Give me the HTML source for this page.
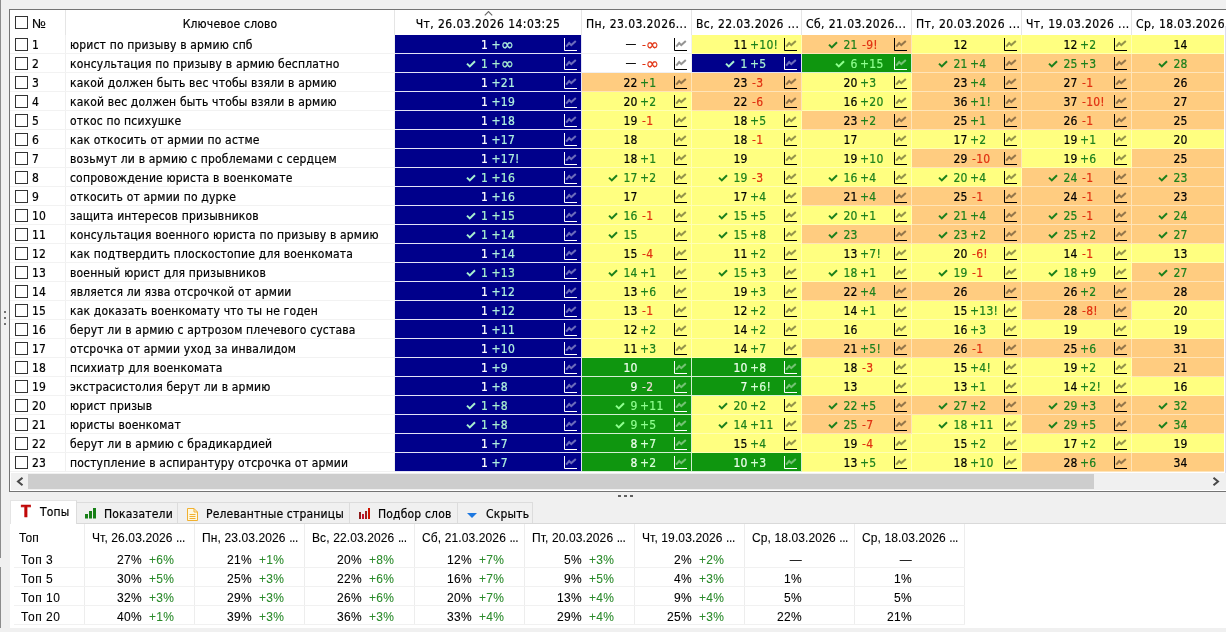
<!DOCTYPE html><html lang="ru"><head><meta charset="utf-8"><title>Позиции</title><style>

html,body{margin:0;padding:0}
body{width:1226px;height:632px;overflow:hidden;background:#f0f0f0;position:relative;font-family:'DejaVu Sans Condensed','Liberation Sans',sans-serif;font-size:12px;letter-spacing:.18px;color:#000;line-height:18px;-webkit-text-stroke:.2px}
div,span{box-sizing:border-box}
.a{position:absolute}
.grid{position:absolute;left:9px;top:9px;width:1230px;height:483px;border:1px solid #747474;background:#fff;overflow:hidden}
.hd{position:absolute;top:0;height:25px;line-height:25px;white-space:nowrap;overflow:hidden;padding-top:2px}
.vs{position:absolute;top:0;width:1px;background:#e5e5e5;height:25px}
.r{position:absolute;left:0;width:1220px;height:19px;border-bottom:1px solid #f2f2f2}
.cb{position:absolute;left:5px;top:3px;width:13px;height:13px;border:1px solid #333;background:#fff}
.n{position:absolute;left:22px;top:1px;height:18px;white-space:nowrap}
.k{position:absolute;left:60px;top:1px;height:18px;white-space:nowrap}
.c{position:absolute;top:0;height:19px;white-space:nowrap;border-right:1px solid #f0f0f0;border-bottom:1px solid #f0f0f0}
.c .l{position:absolute;right:calc(50% - 1px);top:1px;text-align:right;white-space:nowrap}
.c .d{position:absolute;left:50%;top:1px;white-space:pre}
.c svg.i{position:absolute;right:4px;top:3px;width:13px;height:13px}
.c svg.ck{position:relative;top:0;width:10px;height:8px;margin-right:5px;vertical-align:0}
.c.z .l{right:calc(50% + 0px)}.c.z .d{left:calc(50% + 0px)}
.W{background:#fff}.Y{background:#ffff80;border-color:#ffffb4}.O{background:#ffcc80;border-color:#ffe4b8}.G{background:#0f960f;color:#f0fff0;border-color:#d4f0d4}.B{background:#00008b;color:#fff;border-color:#e2e2f6}
.p{color:#1c801c}.m{color:#e03010;margin-left:2px}
.Y .g,.O .g,.W .g{color:#1c801c}
.B .p{color:#b0f0e0}.B .g,.B .g+.d{color:#a8f0d0}
.G .p{color:#d8ffd8}.G .m{color:#f0d8d8}.G .g,.G .g+.d{color:#90ff90}
.inf{font-size:16px;line-height:0;position:relative;top:1px;display:inline-block;transform:scaleX(1.12);transform-origin:0 50%}.ds{position:relative;top:-1px;margin-right:1px}
.vl{position:absolute;top:0;width:1px;height:18px;background:#f0f0f0}
.ax{stroke:#000}.B .ax,.G .ax{stroke:#fff}
.zz{stroke:#000;stroke-opacity:.42}.B .zz,.G .zz{stroke:#fff;stroke-opacity:.42}
.tab{position:absolute;top:502px;height:21px;border:1px solid #dcdcdc;border-bottom:0;border-left:0;background:#f0f0f0;white-space:nowrap;line-height:21px}
.tab.on{top:500px;height:24px;background:#fff;border-left:1px solid #e4e4e4;border-top-color:#e4e4e4}
.bt{position:absolute;left:10px;top:524px;width:1220px;height:104px;background:#fff;overflow:hidden;font-family:'Liberation Sans',sans-serif;letter-spacing:.1px;-webkit-text-stroke:.08px}
.bh{position:absolute;top:2px;height:25px;line-height:25px;white-space:nowrap;letter-spacing:.12px}.el{letter-spacing:-.4px}
.bv{position:absolute;top:0;width:1px;background:#ededed;height:101px}
.br{position:absolute;left:4px;width:951px;height:19px;border-bottom:1px solid #f1f1f1}
.bc{position:absolute;top:2px;height:18px;white-space:pre;letter-spacing:.3px}.bl{letter-spacing:.55px}
.bg{color:#2a8a2a}

</style></head><body>
<div class="a" style="left:0;top:0;width:1px;height:558px;background:#8c8c8c"></div>
<div class="a" style="left:0;top:567px;width:1px;height:61px;background:#8c8c8c"></div>
<div class="a" style="left:4px;top:311px;width:2px;height:2px;background:#707070"></div>
<div class="a" style="left:4px;top:317px;width:2px;height:2px;background:#707070"></div>
<div class="a" style="left:4px;top:323px;width:2px;height:2px;background:#707070"></div>
<div class="grid">
<div class="cb" style="top:6px"></div><div class="hd" style="left:22px;font-family:'Liberation Sans',sans-serif;font-size:13px;letter-spacing:0;padding-top:1px">№</div>
<div class="hd" style="left:56px;width:328px;text-align:center">Ключевое слово</div>
<div class="vs" style="left:55px"></div>
<div class="vs" style="left:384px"></div>
<div class="vs" style="left:571px"></div>
<div class="vs" style="left:681px"></div>
<div class="vs" style="left:791px"></div>
<div class="vs" style="left:901px"></div>
<div class="vs" style="left:1011px"></div>
<div class="vs" style="left:1121px"></div>
<div class="hd" style="left:385px;width:186px;text-align:center;letter-spacing:.45px">Чт, 26.03.2026 14:03:25</div>
<div class="hd" style="left:576px;width:105px;letter-spacing:.42px">Пн, 23.03.2026...</div>
<div class="hd" style="left:686px;width:105px;letter-spacing:.42px">Вс, 22.03.2026 ...</div>
<div class="hd" style="left:796px;width:105px;letter-spacing:.42px">Сб, 21.03.2026...</div>
<div class="hd" style="left:906px;width:105px;letter-spacing:.42px">Пт, 20.03.2026 ...</div>
<div class="hd" style="left:1016px;width:105px;letter-spacing:.42px">Чт, 19.03.2026 ...</div>
<div class="hd" style="left:1126px;width:105px;letter-spacing:.42px">Ср, 18.03.2026 ...</div>
<svg class="a" style="left:474px;top:1px" width="9" height="5" viewBox="0 0 9 5"><path d="M.8 4.300L4.500 .6L8.200 4.300" fill="none" stroke="#686868" stroke-width="1.200"/></svg>
<div class="r" style="top:25px">
<div class="cb"></div><span class="n">1</span><span class="k">юрист по призыву в армию спб</span>
<div class="c B z" style="left:385px;width:187px"><span class="l">1</span><span class="d p"> +<span class="inf">∞</span></span><svg class="i" viewBox="0 0 13 13"><path class="ax" d="M.5 0V12.5H13" fill="none"/><path class="zz" d="M2.2 8.6L5.2 5L7.3 7.1L11.8 3" fill="none" stroke-width="2"/></svg></div>
<div class="c W" style="left:572px;width:110px"><span class="l"><span class="ds">—</span></span><span class="d m"> -<span class="inf">∞</span></span><svg class="i" viewBox="0 0 13 13"><path class="ax" d="M.5 0V12.5H13" fill="none"/><path class="zz" d="M2.2 8.6L5.2 5L7.3 7.1L11.8 3" fill="none" stroke-width="2"/></svg></div>
<div class="c Y" style="left:682px;width:110px"><span class="l">11</span><span class="d p"> +10!</span><svg class="i" viewBox="0 0 13 13"><path class="ax" d="M.5 0V12.5H13" fill="none"/><path class="zz" d="M2.2 8.6L5.2 5L7.3 7.1L11.8 3" fill="none" stroke-width="2"/></svg></div>
<div class="c O" style="left:792px;width:110px"><span class="l g"><svg class="ck" viewBox="0 0 10 8"><path d="M1 3.6L3.8 6.4L9 1.2" fill="none" stroke="currentColor" stroke-width="2"/></svg>21</span><span class="d m"> -9!</span><svg class="i" viewBox="0 0 13 13"><path class="ax" d="M.5 0V12.5H13" fill="none"/><path class="zz" d="M2.2 8.6L5.2 5L7.3 7.1L11.8 3" fill="none" stroke-width="2"/></svg></div>
<div class="c Y" style="left:902px;width:110px"><span class="l">12</span><svg class="i" viewBox="0 0 13 13"><path class="ax" d="M.5 0V12.5H13" fill="none"/><path class="zz" d="M2.2 8.6L5.2 5L7.3 7.1L11.8 3" fill="none" stroke-width="2"/></svg></div>
<div class="c Y" style="left:1012px;width:110px"><span class="l">12</span><span class="d p"> +2</span><svg class="i" viewBox="0 0 13 13"><path class="ax" d="M.5 0V12.5H13" fill="none"/><path class="zz" d="M2.2 8.6L5.2 5L7.3 7.1L11.8 3" fill="none" stroke-width="2"/></svg></div>
<div class="c Y" style="left:1122px;width:110px"><span class="l">14</span></div>
<div class="vl" style="left:55px"></div>
<div class="vl" style="left:384px"></div>
</div>
<div class="r" style="top:44px">
<div class="cb"></div><span class="n">2</span><span class="k">консультация по призыву в армию бесплатно</span>
<div class="c B z" style="left:385px;width:187px"><span class="l g"><svg class="ck" viewBox="0 0 10 8"><path d="M1 3.6L3.8 6.4L9 1.2" fill="none" stroke="currentColor" stroke-width="2"/></svg>1</span><span class="d p"> +<span class="inf">∞</span></span><svg class="i" viewBox="0 0 13 13"><path class="ax" d="M.5 0V12.5H13" fill="none"/><path class="zz" d="M2.2 8.6L5.2 5L7.3 7.1L11.8 3" fill="none" stroke-width="2"/></svg></div>
<div class="c W" style="left:572px;width:110px"><span class="l"><span class="ds">—</span></span><span class="d m"> -<span class="inf">∞</span></span><svg class="i" viewBox="0 0 13 13"><path class="ax" d="M.5 0V12.5H13" fill="none"/><path class="zz" d="M2.2 8.6L5.2 5L7.3 7.1L11.8 3" fill="none" stroke-width="2"/></svg></div>
<div class="c B" style="left:682px;width:110px"><span class="l g"><svg class="ck" viewBox="0 0 10 8"><path d="M1 3.6L3.8 6.4L9 1.2" fill="none" stroke="currentColor" stroke-width="2"/></svg>1</span><span class="d p"> +5</span><svg class="i" viewBox="0 0 13 13"><path class="ax" d="M.5 0V12.5H13" fill="none"/><path class="zz" d="M2.2 8.6L5.2 5L7.3 7.1L11.8 3" fill="none" stroke-width="2"/></svg></div>
<div class="c G" style="left:792px;width:110px"><span class="l g"><svg class="ck" viewBox="0 0 10 8"><path d="M1 3.6L3.8 6.4L9 1.2" fill="none" stroke="currentColor" stroke-width="2"/></svg>6</span><span class="d p"> +15</span><svg class="i" viewBox="0 0 13 13"><path class="ax" d="M.5 0V12.5H13" fill="none"/><path class="zz" d="M2.2 8.6L5.2 5L7.3 7.1L11.8 3" fill="none" stroke-width="2"/></svg></div>
<div class="c O" style="left:902px;width:110px"><span class="l g"><svg class="ck" viewBox="0 0 10 8"><path d="M1 3.6L3.8 6.4L9 1.2" fill="none" stroke="currentColor" stroke-width="2"/></svg>21</span><span class="d p"> +4</span><svg class="i" viewBox="0 0 13 13"><path class="ax" d="M.5 0V12.5H13" fill="none"/><path class="zz" d="M2.2 8.6L5.2 5L7.3 7.1L11.8 3" fill="none" stroke-width="2"/></svg></div>
<div class="c O" style="left:1012px;width:110px"><span class="l g"><svg class="ck" viewBox="0 0 10 8"><path d="M1 3.6L3.8 6.4L9 1.2" fill="none" stroke="currentColor" stroke-width="2"/></svg>25</span><span class="d p"> +3</span><svg class="i" viewBox="0 0 13 13"><path class="ax" d="M.5 0V12.5H13" fill="none"/><path class="zz" d="M2.2 8.6L5.2 5L7.3 7.1L11.8 3" fill="none" stroke-width="2"/></svg></div>
<div class="c O" style="left:1122px;width:110px"><span class="l g"><svg class="ck" viewBox="0 0 10 8"><path d="M1 3.6L3.8 6.4L9 1.2" fill="none" stroke="currentColor" stroke-width="2"/></svg>28</span></div>
<div class="vl" style="left:55px"></div>
<div class="vl" style="left:384px"></div>
</div>
<div class="r" style="top:63px">
<div class="cb"></div><span class="n">3</span><span class="k">какой должен быть вес чтобы взяли в армию</span>
<div class="c B z" style="left:385px;width:187px"><span class="l">1</span><span class="d p"> +21</span><svg class="i" viewBox="0 0 13 13"><path class="ax" d="M.5 0V12.5H13" fill="none"/><path class="zz" d="M2.2 8.6L5.2 5L7.3 7.1L11.8 3" fill="none" stroke-width="2"/></svg></div>
<div class="c O" style="left:572px;width:110px"><span class="l">22</span><span class="d p"> +1</span><svg class="i" viewBox="0 0 13 13"><path class="ax" d="M.5 0V12.5H13" fill="none"/><path class="zz" d="M2.2 8.6L5.2 5L7.3 7.1L11.8 3" fill="none" stroke-width="2"/></svg></div>
<div class="c O" style="left:682px;width:110px"><span class="l">23</span><span class="d m"> -3</span><svg class="i" viewBox="0 0 13 13"><path class="ax" d="M.5 0V12.5H13" fill="none"/><path class="zz" d="M2.2 8.6L5.2 5L7.3 7.1L11.8 3" fill="none" stroke-width="2"/></svg></div>
<div class="c Y" style="left:792px;width:110px"><span class="l">20</span><span class="d p"> +3</span><svg class="i" viewBox="0 0 13 13"><path class="ax" d="M.5 0V12.5H13" fill="none"/><path class="zz" d="M2.2 8.6L5.2 5L7.3 7.1L11.8 3" fill="none" stroke-width="2"/></svg></div>
<div class="c O" style="left:902px;width:110px"><span class="l">23</span><span class="d p"> +4</span><svg class="i" viewBox="0 0 13 13"><path class="ax" d="M.5 0V12.5H13" fill="none"/><path class="zz" d="M2.2 8.6L5.2 5L7.3 7.1L11.8 3" fill="none" stroke-width="2"/></svg></div>
<div class="c O" style="left:1012px;width:110px"><span class="l">27</span><span class="d m"> -1</span><svg class="i" viewBox="0 0 13 13"><path class="ax" d="M.5 0V12.5H13" fill="none"/><path class="zz" d="M2.2 8.6L5.2 5L7.3 7.1L11.8 3" fill="none" stroke-width="2"/></svg></div>
<div class="c O" style="left:1122px;width:110px"><span class="l">26</span></div>
<div class="vl" style="left:55px"></div>
<div class="vl" style="left:384px"></div>
</div>
<div class="r" style="top:82px">
<div class="cb"></div><span class="n">4</span><span class="k">какой вес должен быть чтобы взяли в армию</span>
<div class="c B z" style="left:385px;width:187px"><span class="l">1</span><span class="d p"> +19</span><svg class="i" viewBox="0 0 13 13"><path class="ax" d="M.5 0V12.5H13" fill="none"/><path class="zz" d="M2.2 8.6L5.2 5L7.3 7.1L11.8 3" fill="none" stroke-width="2"/></svg></div>
<div class="c Y" style="left:572px;width:110px"><span class="l">20</span><span class="d p"> +2</span><svg class="i" viewBox="0 0 13 13"><path class="ax" d="M.5 0V12.5H13" fill="none"/><path class="zz" d="M2.2 8.6L5.2 5L7.3 7.1L11.8 3" fill="none" stroke-width="2"/></svg></div>
<div class="c O" style="left:682px;width:110px"><span class="l">22</span><span class="d m"> -6</span><svg class="i" viewBox="0 0 13 13"><path class="ax" d="M.5 0V12.5H13" fill="none"/><path class="zz" d="M2.2 8.6L5.2 5L7.3 7.1L11.8 3" fill="none" stroke-width="2"/></svg></div>
<div class="c Y" style="left:792px;width:110px"><span class="l">16</span><span class="d p"> +20</span><svg class="i" viewBox="0 0 13 13"><path class="ax" d="M.5 0V12.5H13" fill="none"/><path class="zz" d="M2.2 8.6L5.2 5L7.3 7.1L11.8 3" fill="none" stroke-width="2"/></svg></div>
<div class="c O" style="left:902px;width:110px"><span class="l">36</span><span class="d p"> +1!</span><svg class="i" viewBox="0 0 13 13"><path class="ax" d="M.5 0V12.5H13" fill="none"/><path class="zz" d="M2.2 8.6L5.2 5L7.3 7.1L11.8 3" fill="none" stroke-width="2"/></svg></div>
<div class="c O" style="left:1012px;width:110px"><span class="l">37</span><span class="d m"> -10!</span><svg class="i" viewBox="0 0 13 13"><path class="ax" d="M.5 0V12.5H13" fill="none"/><path class="zz" d="M2.2 8.6L5.2 5L7.3 7.1L11.8 3" fill="none" stroke-width="2"/></svg></div>
<div class="c O" style="left:1122px;width:110px"><span class="l">27</span></div>
<div class="vl" style="left:55px"></div>
<div class="vl" style="left:384px"></div>
</div>
<div class="r" style="top:101px">
<div class="cb"></div><span class="n">5</span><span class="k">откос по психушке</span>
<div class="c B z" style="left:385px;width:187px"><span class="l">1</span><span class="d p"> +18</span><svg class="i" viewBox="0 0 13 13"><path class="ax" d="M.5 0V12.5H13" fill="none"/><path class="zz" d="M2.2 8.6L5.2 5L7.3 7.1L11.8 3" fill="none" stroke-width="2"/></svg></div>
<div class="c Y" style="left:572px;width:110px"><span class="l">19</span><span class="d m"> -1</span><svg class="i" viewBox="0 0 13 13"><path class="ax" d="M.5 0V12.5H13" fill="none"/><path class="zz" d="M2.2 8.6L5.2 5L7.3 7.1L11.8 3" fill="none" stroke-width="2"/></svg></div>
<div class="c Y" style="left:682px;width:110px"><span class="l">18</span><span class="d p"> +5</span><svg class="i" viewBox="0 0 13 13"><path class="ax" d="M.5 0V12.5H13" fill="none"/><path class="zz" d="M2.2 8.6L5.2 5L7.3 7.1L11.8 3" fill="none" stroke-width="2"/></svg></div>
<div class="c O" style="left:792px;width:110px"><span class="l">23</span><span class="d p"> +2</span><svg class="i" viewBox="0 0 13 13"><path class="ax" d="M.5 0V12.5H13" fill="none"/><path class="zz" d="M2.2 8.6L5.2 5L7.3 7.1L11.8 3" fill="none" stroke-width="2"/></svg></div>
<div class="c O" style="left:902px;width:110px"><span class="l">25</span><span class="d p"> +1</span><svg class="i" viewBox="0 0 13 13"><path class="ax" d="M.5 0V12.5H13" fill="none"/><path class="zz" d="M2.2 8.6L5.2 5L7.3 7.1L11.8 3" fill="none" stroke-width="2"/></svg></div>
<div class="c O" style="left:1012px;width:110px"><span class="l">26</span><span class="d m"> -1</span><svg class="i" viewBox="0 0 13 13"><path class="ax" d="M.5 0V12.5H13" fill="none"/><path class="zz" d="M2.2 8.6L5.2 5L7.3 7.1L11.8 3" fill="none" stroke-width="2"/></svg></div>
<div class="c O" style="left:1122px;width:110px"><span class="l">25</span></div>
<div class="vl" style="left:55px"></div>
<div class="vl" style="left:384px"></div>
</div>
<div class="r" style="top:120px">
<div class="cb"></div><span class="n">6</span><span class="k">как откосить от армии по астме</span>
<div class="c B z" style="left:385px;width:187px"><span class="l">1</span><span class="d p"> +17</span><svg class="i" viewBox="0 0 13 13"><path class="ax" d="M.5 0V12.5H13" fill="none"/><path class="zz" d="M2.2 8.6L5.2 5L7.3 7.1L11.8 3" fill="none" stroke-width="2"/></svg></div>
<div class="c Y" style="left:572px;width:110px"><span class="l">18</span><svg class="i" viewBox="0 0 13 13"><path class="ax" d="M.5 0V12.5H13" fill="none"/><path class="zz" d="M2.2 8.6L5.2 5L7.3 7.1L11.8 3" fill="none" stroke-width="2"/></svg></div>
<div class="c Y" style="left:682px;width:110px"><span class="l">18</span><span class="d m"> -1</span><svg class="i" viewBox="0 0 13 13"><path class="ax" d="M.5 0V12.5H13" fill="none"/><path class="zz" d="M2.2 8.6L5.2 5L7.3 7.1L11.8 3" fill="none" stroke-width="2"/></svg></div>
<div class="c Y" style="left:792px;width:110px"><span class="l">17</span><svg class="i" viewBox="0 0 13 13"><path class="ax" d="M.5 0V12.5H13" fill="none"/><path class="zz" d="M2.2 8.6L5.2 5L7.3 7.1L11.8 3" fill="none" stroke-width="2"/></svg></div>
<div class="c Y" style="left:902px;width:110px"><span class="l">17</span><span class="d p"> +2</span><svg class="i" viewBox="0 0 13 13"><path class="ax" d="M.5 0V12.5H13" fill="none"/><path class="zz" d="M2.2 8.6L5.2 5L7.3 7.1L11.8 3" fill="none" stroke-width="2"/></svg></div>
<div class="c Y" style="left:1012px;width:110px"><span class="l">19</span><span class="d p"> +1</span><svg class="i" viewBox="0 0 13 13"><path class="ax" d="M.5 0V12.5H13" fill="none"/><path class="zz" d="M2.2 8.6L5.2 5L7.3 7.1L11.8 3" fill="none" stroke-width="2"/></svg></div>
<div class="c Y" style="left:1122px;width:110px"><span class="l">20</span></div>
<div class="vl" style="left:55px"></div>
<div class="vl" style="left:384px"></div>
</div>
<div class="r" style="top:139px">
<div class="cb"></div><span class="n">7</span><span class="k">возьмут ли в армию с проблемами с сердцем</span>
<div class="c B z" style="left:385px;width:187px"><span class="l">1</span><span class="d p"> +17!</span><svg class="i" viewBox="0 0 13 13"><path class="ax" d="M.5 0V12.5H13" fill="none"/><path class="zz" d="M2.2 8.6L5.2 5L7.3 7.1L11.8 3" fill="none" stroke-width="2"/></svg></div>
<div class="c Y" style="left:572px;width:110px"><span class="l">18</span><span class="d p"> +1</span><svg class="i" viewBox="0 0 13 13"><path class="ax" d="M.5 0V12.5H13" fill="none"/><path class="zz" d="M2.2 8.6L5.2 5L7.3 7.1L11.8 3" fill="none" stroke-width="2"/></svg></div>
<div class="c Y" style="left:682px;width:110px"><span class="l">19</span><svg class="i" viewBox="0 0 13 13"><path class="ax" d="M.5 0V12.5H13" fill="none"/><path class="zz" d="M2.2 8.6L5.2 5L7.3 7.1L11.8 3" fill="none" stroke-width="2"/></svg></div>
<div class="c Y" style="left:792px;width:110px"><span class="l">19</span><span class="d p"> +10</span><svg class="i" viewBox="0 0 13 13"><path class="ax" d="M.5 0V12.5H13" fill="none"/><path class="zz" d="M2.2 8.6L5.2 5L7.3 7.1L11.8 3" fill="none" stroke-width="2"/></svg></div>
<div class="c O" style="left:902px;width:110px"><span class="l">29</span><span class="d m"> -10</span><svg class="i" viewBox="0 0 13 13"><path class="ax" d="M.5 0V12.5H13" fill="none"/><path class="zz" d="M2.2 8.6L5.2 5L7.3 7.1L11.8 3" fill="none" stroke-width="2"/></svg></div>
<div class="c Y" style="left:1012px;width:110px"><span class="l">19</span><span class="d p"> +6</span><svg class="i" viewBox="0 0 13 13"><path class="ax" d="M.5 0V12.5H13" fill="none"/><path class="zz" d="M2.2 8.6L5.2 5L7.3 7.1L11.8 3" fill="none" stroke-width="2"/></svg></div>
<div class="c O" style="left:1122px;width:110px"><span class="l">25</span></div>
<div class="vl" style="left:55px"></div>
<div class="vl" style="left:384px"></div>
</div>
<div class="r" style="top:158px">
<div class="cb"></div><span class="n">8</span><span class="k">сопровождение юриста в военкомате</span>
<div class="c B z" style="left:385px;width:187px"><span class="l g"><svg class="ck" viewBox="0 0 10 8"><path d="M1 3.6L3.8 6.4L9 1.2" fill="none" stroke="currentColor" stroke-width="2"/></svg>1</span><span class="d p"> +16</span><svg class="i" viewBox="0 0 13 13"><path class="ax" d="M.5 0V12.5H13" fill="none"/><path class="zz" d="M2.2 8.6L5.2 5L7.3 7.1L11.8 3" fill="none" stroke-width="2"/></svg></div>
<div class="c Y" style="left:572px;width:110px"><span class="l g"><svg class="ck" viewBox="0 0 10 8"><path d="M1 3.6L3.8 6.4L9 1.2" fill="none" stroke="currentColor" stroke-width="2"/></svg>17</span><span class="d p"> +2</span><svg class="i" viewBox="0 0 13 13"><path class="ax" d="M.5 0V12.5H13" fill="none"/><path class="zz" d="M2.2 8.6L5.2 5L7.3 7.1L11.8 3" fill="none" stroke-width="2"/></svg></div>
<div class="c Y" style="left:682px;width:110px"><span class="l g"><svg class="ck" viewBox="0 0 10 8"><path d="M1 3.6L3.8 6.4L9 1.2" fill="none" stroke="currentColor" stroke-width="2"/></svg>19</span><span class="d m"> -3</span><svg class="i" viewBox="0 0 13 13"><path class="ax" d="M.5 0V12.5H13" fill="none"/><path class="zz" d="M2.2 8.6L5.2 5L7.3 7.1L11.8 3" fill="none" stroke-width="2"/></svg></div>
<div class="c Y" style="left:792px;width:110px"><span class="l g"><svg class="ck" viewBox="0 0 10 8"><path d="M1 3.6L3.8 6.4L9 1.2" fill="none" stroke="currentColor" stroke-width="2"/></svg>16</span><span class="d p"> +4</span><svg class="i" viewBox="0 0 13 13"><path class="ax" d="M.5 0V12.5H13" fill="none"/><path class="zz" d="M2.2 8.6L5.2 5L7.3 7.1L11.8 3" fill="none" stroke-width="2"/></svg></div>
<div class="c Y" style="left:902px;width:110px"><span class="l g"><svg class="ck" viewBox="0 0 10 8"><path d="M1 3.6L3.8 6.4L9 1.2" fill="none" stroke="currentColor" stroke-width="2"/></svg>20</span><span class="d p"> +4</span><svg class="i" viewBox="0 0 13 13"><path class="ax" d="M.5 0V12.5H13" fill="none"/><path class="zz" d="M2.2 8.6L5.2 5L7.3 7.1L11.8 3" fill="none" stroke-width="2"/></svg></div>
<div class="c O" style="left:1012px;width:110px"><span class="l g"><svg class="ck" viewBox="0 0 10 8"><path d="M1 3.6L3.8 6.4L9 1.2" fill="none" stroke="currentColor" stroke-width="2"/></svg>24</span><span class="d m"> -1</span><svg class="i" viewBox="0 0 13 13"><path class="ax" d="M.5 0V12.5H13" fill="none"/><path class="zz" d="M2.2 8.6L5.2 5L7.3 7.1L11.8 3" fill="none" stroke-width="2"/></svg></div>
<div class="c O" style="left:1122px;width:110px"><span class="l g"><svg class="ck" viewBox="0 0 10 8"><path d="M1 3.6L3.8 6.4L9 1.2" fill="none" stroke="currentColor" stroke-width="2"/></svg>23</span></div>
<div class="vl" style="left:55px"></div>
<div class="vl" style="left:384px"></div>
</div>
<div class="r" style="top:177px">
<div class="cb"></div><span class="n">9</span><span class="k">откосить от армии по дурке</span>
<div class="c B z" style="left:385px;width:187px"><span class="l">1</span><span class="d p"> +16</span><svg class="i" viewBox="0 0 13 13"><path class="ax" d="M.5 0V12.5H13" fill="none"/><path class="zz" d="M2.2 8.6L5.2 5L7.3 7.1L11.8 3" fill="none" stroke-width="2"/></svg></div>
<div class="c Y" style="left:572px;width:110px"><span class="l">17</span><svg class="i" viewBox="0 0 13 13"><path class="ax" d="M.5 0V12.5H13" fill="none"/><path class="zz" d="M2.2 8.6L5.2 5L7.3 7.1L11.8 3" fill="none" stroke-width="2"/></svg></div>
<div class="c Y" style="left:682px;width:110px"><span class="l">17</span><span class="d p"> +4</span><svg class="i" viewBox="0 0 13 13"><path class="ax" d="M.5 0V12.5H13" fill="none"/><path class="zz" d="M2.2 8.6L5.2 5L7.3 7.1L11.8 3" fill="none" stroke-width="2"/></svg></div>
<div class="c O" style="left:792px;width:110px"><span class="l">21</span><span class="d p"> +4</span><svg class="i" viewBox="0 0 13 13"><path class="ax" d="M.5 0V12.5H13" fill="none"/><path class="zz" d="M2.2 8.6L5.2 5L7.3 7.1L11.8 3" fill="none" stroke-width="2"/></svg></div>
<div class="c O" style="left:902px;width:110px"><span class="l">25</span><span class="d m"> -1</span><svg class="i" viewBox="0 0 13 13"><path class="ax" d="M.5 0V12.5H13" fill="none"/><path class="zz" d="M2.2 8.6L5.2 5L7.3 7.1L11.8 3" fill="none" stroke-width="2"/></svg></div>
<div class="c O" style="left:1012px;width:110px"><span class="l">24</span><span class="d m"> -1</span><svg class="i" viewBox="0 0 13 13"><path class="ax" d="M.5 0V12.5H13" fill="none"/><path class="zz" d="M2.2 8.6L5.2 5L7.3 7.1L11.8 3" fill="none" stroke-width="2"/></svg></div>
<div class="c O" style="left:1122px;width:110px"><span class="l">23</span></div>
<div class="vl" style="left:55px"></div>
<div class="vl" style="left:384px"></div>
</div>
<div class="r" style="top:196px">
<div class="cb"></div><span class="n">10</span><span class="k">защита интересов призывников</span>
<div class="c B z" style="left:385px;width:187px"><span class="l g"><svg class="ck" viewBox="0 0 10 8"><path d="M1 3.6L3.8 6.4L9 1.2" fill="none" stroke="currentColor" stroke-width="2"/></svg>1</span><span class="d p"> +15</span><svg class="i" viewBox="0 0 13 13"><path class="ax" d="M.5 0V12.5H13" fill="none"/><path class="zz" d="M2.2 8.6L5.2 5L7.3 7.1L11.8 3" fill="none" stroke-width="2"/></svg></div>
<div class="c Y" style="left:572px;width:110px"><span class="l g"><svg class="ck" viewBox="0 0 10 8"><path d="M1 3.6L3.8 6.4L9 1.2" fill="none" stroke="currentColor" stroke-width="2"/></svg>16</span><span class="d m"> -1</span><svg class="i" viewBox="0 0 13 13"><path class="ax" d="M.5 0V12.5H13" fill="none"/><path class="zz" d="M2.2 8.6L5.2 5L7.3 7.1L11.8 3" fill="none" stroke-width="2"/></svg></div>
<div class="c Y" style="left:682px;width:110px"><span class="l g"><svg class="ck" viewBox="0 0 10 8"><path d="M1 3.6L3.8 6.4L9 1.2" fill="none" stroke="currentColor" stroke-width="2"/></svg>15</span><span class="d p"> +5</span><svg class="i" viewBox="0 0 13 13"><path class="ax" d="M.5 0V12.5H13" fill="none"/><path class="zz" d="M2.2 8.6L5.2 5L7.3 7.1L11.8 3" fill="none" stroke-width="2"/></svg></div>
<div class="c Y" style="left:792px;width:110px"><span class="l g"><svg class="ck" viewBox="0 0 10 8"><path d="M1 3.6L3.8 6.4L9 1.2" fill="none" stroke="currentColor" stroke-width="2"/></svg>20</span><span class="d p"> +1</span><svg class="i" viewBox="0 0 13 13"><path class="ax" d="M.5 0V12.5H13" fill="none"/><path class="zz" d="M2.2 8.6L5.2 5L7.3 7.1L11.8 3" fill="none" stroke-width="2"/></svg></div>
<div class="c O" style="left:902px;width:110px"><span class="l g"><svg class="ck" viewBox="0 0 10 8"><path d="M1 3.6L3.8 6.4L9 1.2" fill="none" stroke="currentColor" stroke-width="2"/></svg>21</span><span class="d p"> +4</span><svg class="i" viewBox="0 0 13 13"><path class="ax" d="M.5 0V12.5H13" fill="none"/><path class="zz" d="M2.2 8.6L5.2 5L7.3 7.1L11.8 3" fill="none" stroke-width="2"/></svg></div>
<div class="c O" style="left:1012px;width:110px"><span class="l g"><svg class="ck" viewBox="0 0 10 8"><path d="M1 3.6L3.8 6.4L9 1.2" fill="none" stroke="currentColor" stroke-width="2"/></svg>25</span><span class="d m"> -1</span><svg class="i" viewBox="0 0 13 13"><path class="ax" d="M.5 0V12.5H13" fill="none"/><path class="zz" d="M2.2 8.6L5.2 5L7.3 7.1L11.8 3" fill="none" stroke-width="2"/></svg></div>
<div class="c O" style="left:1122px;width:110px"><span class="l g"><svg class="ck" viewBox="0 0 10 8"><path d="M1 3.6L3.8 6.4L9 1.2" fill="none" stroke="currentColor" stroke-width="2"/></svg>24</span></div>
<div class="vl" style="left:55px"></div>
<div class="vl" style="left:384px"></div>
</div>
<div class="r" style="top:215px">
<div class="cb"></div><span class="n">11</span><span class="k">консультация военного юриста по призыву в армию</span>
<div class="c B z" style="left:385px;width:187px"><span class="l g"><svg class="ck" viewBox="0 0 10 8"><path d="M1 3.6L3.8 6.4L9 1.2" fill="none" stroke="currentColor" stroke-width="2"/></svg>1</span><span class="d p"> +14</span><svg class="i" viewBox="0 0 13 13"><path class="ax" d="M.5 0V12.5H13" fill="none"/><path class="zz" d="M2.2 8.6L5.2 5L7.3 7.1L11.8 3" fill="none" stroke-width="2"/></svg></div>
<div class="c Y" style="left:572px;width:110px"><span class="l g"><svg class="ck" viewBox="0 0 10 8"><path d="M1 3.6L3.8 6.4L9 1.2" fill="none" stroke="currentColor" stroke-width="2"/></svg>15</span><svg class="i" viewBox="0 0 13 13"><path class="ax" d="M.5 0V12.5H13" fill="none"/><path class="zz" d="M2.2 8.6L5.2 5L7.3 7.1L11.8 3" fill="none" stroke-width="2"/></svg></div>
<div class="c Y" style="left:682px;width:110px"><span class="l g"><svg class="ck" viewBox="0 0 10 8"><path d="M1 3.6L3.8 6.4L9 1.2" fill="none" stroke="currentColor" stroke-width="2"/></svg>15</span><span class="d p"> +8</span><svg class="i" viewBox="0 0 13 13"><path class="ax" d="M.5 0V12.5H13" fill="none"/><path class="zz" d="M2.2 8.6L5.2 5L7.3 7.1L11.8 3" fill="none" stroke-width="2"/></svg></div>
<div class="c O" style="left:792px;width:110px"><span class="l g"><svg class="ck" viewBox="0 0 10 8"><path d="M1 3.6L3.8 6.4L9 1.2" fill="none" stroke="currentColor" stroke-width="2"/></svg>23</span><svg class="i" viewBox="0 0 13 13"><path class="ax" d="M.5 0V12.5H13" fill="none"/><path class="zz" d="M2.2 8.6L5.2 5L7.3 7.1L11.8 3" fill="none" stroke-width="2"/></svg></div>
<div class="c O" style="left:902px;width:110px"><span class="l g"><svg class="ck" viewBox="0 0 10 8"><path d="M1 3.6L3.8 6.4L9 1.2" fill="none" stroke="currentColor" stroke-width="2"/></svg>23</span><span class="d p"> +2</span><svg class="i" viewBox="0 0 13 13"><path class="ax" d="M.5 0V12.5H13" fill="none"/><path class="zz" d="M2.2 8.6L5.2 5L7.3 7.1L11.8 3" fill="none" stroke-width="2"/></svg></div>
<div class="c O" style="left:1012px;width:110px"><span class="l g"><svg class="ck" viewBox="0 0 10 8"><path d="M1 3.6L3.8 6.4L9 1.2" fill="none" stroke="currentColor" stroke-width="2"/></svg>25</span><span class="d p"> +2</span><svg class="i" viewBox="0 0 13 13"><path class="ax" d="M.5 0V12.5H13" fill="none"/><path class="zz" d="M2.2 8.6L5.2 5L7.3 7.1L11.8 3" fill="none" stroke-width="2"/></svg></div>
<div class="c O" style="left:1122px;width:110px"><span class="l g"><svg class="ck" viewBox="0 0 10 8"><path d="M1 3.6L3.8 6.4L9 1.2" fill="none" stroke="currentColor" stroke-width="2"/></svg>27</span></div>
<div class="vl" style="left:55px"></div>
<div class="vl" style="left:384px"></div>
</div>
<div class="r" style="top:234px">
<div class="cb"></div><span class="n">12</span><span class="k">как подтвердить плоскостопие для военкомата</span>
<div class="c B z" style="left:385px;width:187px"><span class="l">1</span><span class="d p"> +14</span><svg class="i" viewBox="0 0 13 13"><path class="ax" d="M.5 0V12.5H13" fill="none"/><path class="zz" d="M2.2 8.6L5.2 5L7.3 7.1L11.8 3" fill="none" stroke-width="2"/></svg></div>
<div class="c Y" style="left:572px;width:110px"><span class="l">15</span><span class="d m"> -4</span><svg class="i" viewBox="0 0 13 13"><path class="ax" d="M.5 0V12.5H13" fill="none"/><path class="zz" d="M2.2 8.6L5.2 5L7.3 7.1L11.8 3" fill="none" stroke-width="2"/></svg></div>
<div class="c Y" style="left:682px;width:110px"><span class="l">11</span><span class="d p"> +2</span><svg class="i" viewBox="0 0 13 13"><path class="ax" d="M.5 0V12.5H13" fill="none"/><path class="zz" d="M2.2 8.6L5.2 5L7.3 7.1L11.8 3" fill="none" stroke-width="2"/></svg></div>
<div class="c Y" style="left:792px;width:110px"><span class="l">13</span><span class="d p"> +7!</span><svg class="i" viewBox="0 0 13 13"><path class="ax" d="M.5 0V12.5H13" fill="none"/><path class="zz" d="M2.2 8.6L5.2 5L7.3 7.1L11.8 3" fill="none" stroke-width="2"/></svg></div>
<div class="c Y" style="left:902px;width:110px"><span class="l">20</span><span class="d m"> -6!</span><svg class="i" viewBox="0 0 13 13"><path class="ax" d="M.5 0V12.5H13" fill="none"/><path class="zz" d="M2.2 8.6L5.2 5L7.3 7.1L11.8 3" fill="none" stroke-width="2"/></svg></div>
<div class="c Y" style="left:1012px;width:110px"><span class="l">14</span><span class="d m"> -1</span><svg class="i" viewBox="0 0 13 13"><path class="ax" d="M.5 0V12.5H13" fill="none"/><path class="zz" d="M2.2 8.6L5.2 5L7.3 7.1L11.8 3" fill="none" stroke-width="2"/></svg></div>
<div class="c Y" style="left:1122px;width:110px"><span class="l">13</span></div>
<div class="vl" style="left:55px"></div>
<div class="vl" style="left:384px"></div>
</div>
<div class="r" style="top:253px">
<div class="cb"></div><span class="n">13</span><span class="k">военный юрист для призывников</span>
<div class="c B z" style="left:385px;width:187px"><span class="l g"><svg class="ck" viewBox="0 0 10 8"><path d="M1 3.6L3.8 6.4L9 1.2" fill="none" stroke="currentColor" stroke-width="2"/></svg>1</span><span class="d p"> +13</span><svg class="i" viewBox="0 0 13 13"><path class="ax" d="M.5 0V12.5H13" fill="none"/><path class="zz" d="M2.2 8.6L5.2 5L7.3 7.1L11.8 3" fill="none" stroke-width="2"/></svg></div>
<div class="c Y" style="left:572px;width:110px"><span class="l g"><svg class="ck" viewBox="0 0 10 8"><path d="M1 3.6L3.8 6.4L9 1.2" fill="none" stroke="currentColor" stroke-width="2"/></svg>14</span><span class="d p"> +1</span><svg class="i" viewBox="0 0 13 13"><path class="ax" d="M.5 0V12.5H13" fill="none"/><path class="zz" d="M2.2 8.6L5.2 5L7.3 7.1L11.8 3" fill="none" stroke-width="2"/></svg></div>
<div class="c Y" style="left:682px;width:110px"><span class="l g"><svg class="ck" viewBox="0 0 10 8"><path d="M1 3.6L3.8 6.4L9 1.2" fill="none" stroke="currentColor" stroke-width="2"/></svg>15</span><span class="d p"> +3</span><svg class="i" viewBox="0 0 13 13"><path class="ax" d="M.5 0V12.5H13" fill="none"/><path class="zz" d="M2.2 8.6L5.2 5L7.3 7.1L11.8 3" fill="none" stroke-width="2"/></svg></div>
<div class="c Y" style="left:792px;width:110px"><span class="l g"><svg class="ck" viewBox="0 0 10 8"><path d="M1 3.6L3.8 6.4L9 1.2" fill="none" stroke="currentColor" stroke-width="2"/></svg>18</span><span class="d p"> +1</span><svg class="i" viewBox="0 0 13 13"><path class="ax" d="M.5 0V12.5H13" fill="none"/><path class="zz" d="M2.2 8.6L5.2 5L7.3 7.1L11.8 3" fill="none" stroke-width="2"/></svg></div>
<div class="c Y" style="left:902px;width:110px"><span class="l g"><svg class="ck" viewBox="0 0 10 8"><path d="M1 3.6L3.8 6.4L9 1.2" fill="none" stroke="currentColor" stroke-width="2"/></svg>19</span><span class="d m"> -1</span><svg class="i" viewBox="0 0 13 13"><path class="ax" d="M.5 0V12.5H13" fill="none"/><path class="zz" d="M2.2 8.6L5.2 5L7.3 7.1L11.8 3" fill="none" stroke-width="2"/></svg></div>
<div class="c Y" style="left:1012px;width:110px"><span class="l g"><svg class="ck" viewBox="0 0 10 8"><path d="M1 3.6L3.8 6.4L9 1.2" fill="none" stroke="currentColor" stroke-width="2"/></svg>18</span><span class="d p"> +9</span><svg class="i" viewBox="0 0 13 13"><path class="ax" d="M.5 0V12.5H13" fill="none"/><path class="zz" d="M2.2 8.6L5.2 5L7.3 7.1L11.8 3" fill="none" stroke-width="2"/></svg></div>
<div class="c O" style="left:1122px;width:110px"><span class="l g"><svg class="ck" viewBox="0 0 10 8"><path d="M1 3.6L3.8 6.4L9 1.2" fill="none" stroke="currentColor" stroke-width="2"/></svg>27</span></div>
<div class="vl" style="left:55px"></div>
<div class="vl" style="left:384px"></div>
</div>
<div class="r" style="top:272px">
<div class="cb"></div><span class="n">14</span><span class="k">является ли язва отсрочкой от армии</span>
<div class="c B z" style="left:385px;width:187px"><span class="l">1</span><span class="d p"> +12</span><svg class="i" viewBox="0 0 13 13"><path class="ax" d="M.5 0V12.5H13" fill="none"/><path class="zz" d="M2.2 8.6L5.2 5L7.3 7.1L11.8 3" fill="none" stroke-width="2"/></svg></div>
<div class="c Y" style="left:572px;width:110px"><span class="l">13</span><span class="d p"> +6</span><svg class="i" viewBox="0 0 13 13"><path class="ax" d="M.5 0V12.5H13" fill="none"/><path class="zz" d="M2.2 8.6L5.2 5L7.3 7.1L11.8 3" fill="none" stroke-width="2"/></svg></div>
<div class="c Y" style="left:682px;width:110px"><span class="l">19</span><span class="d p"> +3</span><svg class="i" viewBox="0 0 13 13"><path class="ax" d="M.5 0V12.5H13" fill="none"/><path class="zz" d="M2.2 8.6L5.2 5L7.3 7.1L11.8 3" fill="none" stroke-width="2"/></svg></div>
<div class="c O" style="left:792px;width:110px"><span class="l">22</span><span class="d p"> +4</span><svg class="i" viewBox="0 0 13 13"><path class="ax" d="M.5 0V12.5H13" fill="none"/><path class="zz" d="M2.2 8.6L5.2 5L7.3 7.1L11.8 3" fill="none" stroke-width="2"/></svg></div>
<div class="c O" style="left:902px;width:110px"><span class="l">26</span><svg class="i" viewBox="0 0 13 13"><path class="ax" d="M.5 0V12.5H13" fill="none"/><path class="zz" d="M2.2 8.6L5.2 5L7.3 7.1L11.8 3" fill="none" stroke-width="2"/></svg></div>
<div class="c O" style="left:1012px;width:110px"><span class="l">26</span><span class="d p"> +2</span><svg class="i" viewBox="0 0 13 13"><path class="ax" d="M.5 0V12.5H13" fill="none"/><path class="zz" d="M2.2 8.6L5.2 5L7.3 7.1L11.8 3" fill="none" stroke-width="2"/></svg></div>
<div class="c O" style="left:1122px;width:110px"><span class="l">28</span></div>
<div class="vl" style="left:55px"></div>
<div class="vl" style="left:384px"></div>
</div>
<div class="r" style="top:291px">
<div class="cb"></div><span class="n">15</span><span class="k">как доказать военкомату что ты не годен</span>
<div class="c B z" style="left:385px;width:187px"><span class="l">1</span><span class="d p"> +12</span><svg class="i" viewBox="0 0 13 13"><path class="ax" d="M.5 0V12.5H13" fill="none"/><path class="zz" d="M2.2 8.6L5.2 5L7.3 7.1L11.8 3" fill="none" stroke-width="2"/></svg></div>
<div class="c Y" style="left:572px;width:110px"><span class="l">13</span><span class="d m"> -1</span><svg class="i" viewBox="0 0 13 13"><path class="ax" d="M.5 0V12.5H13" fill="none"/><path class="zz" d="M2.2 8.6L5.2 5L7.3 7.1L11.8 3" fill="none" stroke-width="2"/></svg></div>
<div class="c Y" style="left:682px;width:110px"><span class="l">12</span><span class="d p"> +2</span><svg class="i" viewBox="0 0 13 13"><path class="ax" d="M.5 0V12.5H13" fill="none"/><path class="zz" d="M2.2 8.6L5.2 5L7.3 7.1L11.8 3" fill="none" stroke-width="2"/></svg></div>
<div class="c Y" style="left:792px;width:110px"><span class="l">14</span><span class="d p"> +1</span><svg class="i" viewBox="0 0 13 13"><path class="ax" d="M.5 0V12.5H13" fill="none"/><path class="zz" d="M2.2 8.6L5.2 5L7.3 7.1L11.8 3" fill="none" stroke-width="2"/></svg></div>
<div class="c Y" style="left:902px;width:110px"><span class="l">15</span><span class="d p"> +13!</span><svg class="i" viewBox="0 0 13 13"><path class="ax" d="M.5 0V12.5H13" fill="none"/><path class="zz" d="M2.2 8.6L5.2 5L7.3 7.1L11.8 3" fill="none" stroke-width="2"/></svg></div>
<div class="c O" style="left:1012px;width:110px"><span class="l">28</span><span class="d m"> -8!</span><svg class="i" viewBox="0 0 13 13"><path class="ax" d="M.5 0V12.5H13" fill="none"/><path class="zz" d="M2.2 8.6L5.2 5L7.3 7.1L11.8 3" fill="none" stroke-width="2"/></svg></div>
<div class="c Y" style="left:1122px;width:110px"><span class="l">20</span></div>
<div class="vl" style="left:55px"></div>
<div class="vl" style="left:384px"></div>
</div>
<div class="r" style="top:310px">
<div class="cb"></div><span class="n">16</span><span class="k">берут ли в армию с артрозом плечевого сустава</span>
<div class="c B z" style="left:385px;width:187px"><span class="l">1</span><span class="d p"> +11</span><svg class="i" viewBox="0 0 13 13"><path class="ax" d="M.5 0V12.5H13" fill="none"/><path class="zz" d="M2.2 8.6L5.2 5L7.3 7.1L11.8 3" fill="none" stroke-width="2"/></svg></div>
<div class="c Y" style="left:572px;width:110px"><span class="l">12</span><span class="d p"> +2</span><svg class="i" viewBox="0 0 13 13"><path class="ax" d="M.5 0V12.5H13" fill="none"/><path class="zz" d="M2.2 8.6L5.2 5L7.3 7.1L11.8 3" fill="none" stroke-width="2"/></svg></div>
<div class="c Y" style="left:682px;width:110px"><span class="l">14</span><span class="d p"> +2</span><svg class="i" viewBox="0 0 13 13"><path class="ax" d="M.5 0V12.5H13" fill="none"/><path class="zz" d="M2.2 8.6L5.2 5L7.3 7.1L11.8 3" fill="none" stroke-width="2"/></svg></div>
<div class="c Y" style="left:792px;width:110px"><span class="l">16</span><svg class="i" viewBox="0 0 13 13"><path class="ax" d="M.5 0V12.5H13" fill="none"/><path class="zz" d="M2.2 8.6L5.2 5L7.3 7.1L11.8 3" fill="none" stroke-width="2"/></svg></div>
<div class="c Y" style="left:902px;width:110px"><span class="l">16</span><span class="d p"> +3</span><svg class="i" viewBox="0 0 13 13"><path class="ax" d="M.5 0V12.5H13" fill="none"/><path class="zz" d="M2.2 8.6L5.2 5L7.3 7.1L11.8 3" fill="none" stroke-width="2"/></svg></div>
<div class="c Y" style="left:1012px;width:110px"><span class="l">19</span><svg class="i" viewBox="0 0 13 13"><path class="ax" d="M.5 0V12.5H13" fill="none"/><path class="zz" d="M2.2 8.6L5.2 5L7.3 7.1L11.8 3" fill="none" stroke-width="2"/></svg></div>
<div class="c Y" style="left:1122px;width:110px"><span class="l">19</span></div>
<div class="vl" style="left:55px"></div>
<div class="vl" style="left:384px"></div>
</div>
<div class="r" style="top:329px">
<div class="cb"></div><span class="n">17</span><span class="k">отсрочка от армии уход за инвалидом</span>
<div class="c B z" style="left:385px;width:187px"><span class="l">1</span><span class="d p"> +10</span><svg class="i" viewBox="0 0 13 13"><path class="ax" d="M.5 0V12.5H13" fill="none"/><path class="zz" d="M2.2 8.6L5.2 5L7.3 7.1L11.8 3" fill="none" stroke-width="2"/></svg></div>
<div class="c Y" style="left:572px;width:110px"><span class="l">11</span><span class="d p"> +3</span><svg class="i" viewBox="0 0 13 13"><path class="ax" d="M.5 0V12.5H13" fill="none"/><path class="zz" d="M2.2 8.6L5.2 5L7.3 7.1L11.8 3" fill="none" stroke-width="2"/></svg></div>
<div class="c Y" style="left:682px;width:110px"><span class="l">14</span><span class="d p"> +7</span><svg class="i" viewBox="0 0 13 13"><path class="ax" d="M.5 0V12.5H13" fill="none"/><path class="zz" d="M2.2 8.6L5.2 5L7.3 7.1L11.8 3" fill="none" stroke-width="2"/></svg></div>
<div class="c O" style="left:792px;width:110px"><span class="l">21</span><span class="d p"> +5!</span><svg class="i" viewBox="0 0 13 13"><path class="ax" d="M.5 0V12.5H13" fill="none"/><path class="zz" d="M2.2 8.6L5.2 5L7.3 7.1L11.8 3" fill="none" stroke-width="2"/></svg></div>
<div class="c O" style="left:902px;width:110px"><span class="l">26</span><span class="d m"> -1</span><svg class="i" viewBox="0 0 13 13"><path class="ax" d="M.5 0V12.5H13" fill="none"/><path class="zz" d="M2.2 8.6L5.2 5L7.3 7.1L11.8 3" fill="none" stroke-width="2"/></svg></div>
<div class="c O" style="left:1012px;width:110px"><span class="l">25</span><span class="d p"> +6</span><svg class="i" viewBox="0 0 13 13"><path class="ax" d="M.5 0V12.5H13" fill="none"/><path class="zz" d="M2.2 8.6L5.2 5L7.3 7.1L11.8 3" fill="none" stroke-width="2"/></svg></div>
<div class="c O" style="left:1122px;width:110px"><span class="l">31</span></div>
<div class="vl" style="left:55px"></div>
<div class="vl" style="left:384px"></div>
</div>
<div class="r" style="top:348px">
<div class="cb"></div><span class="n">18</span><span class="k">психиатр для военкомата</span>
<div class="c B z" style="left:385px;width:187px"><span class="l">1</span><span class="d p"> +9</span><svg class="i" viewBox="0 0 13 13"><path class="ax" d="M.5 0V12.5H13" fill="none"/><path class="zz" d="M2.2 8.6L5.2 5L7.3 7.1L11.8 3" fill="none" stroke-width="2"/></svg></div>
<div class="c G" style="left:572px;width:110px"><span class="l">10</span><svg class="i" viewBox="0 0 13 13"><path class="ax" d="M.5 0V12.5H13" fill="none"/><path class="zz" d="M2.2 8.6L5.2 5L7.3 7.1L11.8 3" fill="none" stroke-width="2"/></svg></div>
<div class="c G" style="left:682px;width:110px"><span class="l">10</span><span class="d p"> +8</span><svg class="i" viewBox="0 0 13 13"><path class="ax" d="M.5 0V12.5H13" fill="none"/><path class="zz" d="M2.2 8.6L5.2 5L7.3 7.1L11.8 3" fill="none" stroke-width="2"/></svg></div>
<div class="c Y" style="left:792px;width:110px"><span class="l">18</span><span class="d m"> -3</span><svg class="i" viewBox="0 0 13 13"><path class="ax" d="M.5 0V12.5H13" fill="none"/><path class="zz" d="M2.2 8.6L5.2 5L7.3 7.1L11.8 3" fill="none" stroke-width="2"/></svg></div>
<div class="c Y" style="left:902px;width:110px"><span class="l">15</span><span class="d p"> +4!</span><svg class="i" viewBox="0 0 13 13"><path class="ax" d="M.5 0V12.5H13" fill="none"/><path class="zz" d="M2.2 8.6L5.2 5L7.3 7.1L11.8 3" fill="none" stroke-width="2"/></svg></div>
<div class="c Y" style="left:1012px;width:110px"><span class="l">19</span><span class="d p"> +2</span><svg class="i" viewBox="0 0 13 13"><path class="ax" d="M.5 0V12.5H13" fill="none"/><path class="zz" d="M2.2 8.6L5.2 5L7.3 7.1L11.8 3" fill="none" stroke-width="2"/></svg></div>
<div class="c O" style="left:1122px;width:110px"><span class="l">21</span></div>
<div class="vl" style="left:55px"></div>
<div class="vl" style="left:384px"></div>
</div>
<div class="r" style="top:367px">
<div class="cb"></div><span class="n">19</span><span class="k">экстрасистолия берут ли в армию</span>
<div class="c B z" style="left:385px;width:187px"><span class="l">1</span><span class="d p"> +8</span><svg class="i" viewBox="0 0 13 13"><path class="ax" d="M.5 0V12.5H13" fill="none"/><path class="zz" d="M2.2 8.6L5.2 5L7.3 7.1L11.8 3" fill="none" stroke-width="2"/></svg></div>
<div class="c G" style="left:572px;width:110px"><span class="l">9</span><span class="d m"> -2</span><svg class="i" viewBox="0 0 13 13"><path class="ax" d="M.5 0V12.5H13" fill="none"/><path class="zz" d="M2.2 8.6L5.2 5L7.3 7.1L11.8 3" fill="none" stroke-width="2"/></svg></div>
<div class="c G" style="left:682px;width:110px"><span class="l">7</span><span class="d p"> +6!</span><svg class="i" viewBox="0 0 13 13"><path class="ax" d="M.5 0V12.5H13" fill="none"/><path class="zz" d="M2.2 8.6L5.2 5L7.3 7.1L11.8 3" fill="none" stroke-width="2"/></svg></div>
<div class="c Y" style="left:792px;width:110px"><span class="l">13</span><svg class="i" viewBox="0 0 13 13"><path class="ax" d="M.5 0V12.5H13" fill="none"/><path class="zz" d="M2.2 8.6L5.2 5L7.3 7.1L11.8 3" fill="none" stroke-width="2"/></svg></div>
<div class="c Y" style="left:902px;width:110px"><span class="l">13</span><span class="d p"> +1</span><svg class="i" viewBox="0 0 13 13"><path class="ax" d="M.5 0V12.5H13" fill="none"/><path class="zz" d="M2.2 8.6L5.2 5L7.3 7.1L11.8 3" fill="none" stroke-width="2"/></svg></div>
<div class="c Y" style="left:1012px;width:110px"><span class="l">14</span><span class="d p"> +2!</span><svg class="i" viewBox="0 0 13 13"><path class="ax" d="M.5 0V12.5H13" fill="none"/><path class="zz" d="M2.2 8.6L5.2 5L7.3 7.1L11.8 3" fill="none" stroke-width="2"/></svg></div>
<div class="c Y" style="left:1122px;width:110px"><span class="l">16</span></div>
<div class="vl" style="left:55px"></div>
<div class="vl" style="left:384px"></div>
</div>
<div class="r" style="top:386px">
<div class="cb"></div><span class="n">20</span><span class="k">юрист призыв</span>
<div class="c B z" style="left:385px;width:187px"><span class="l g"><svg class="ck" viewBox="0 0 10 8"><path d="M1 3.6L3.8 6.4L9 1.2" fill="none" stroke="currentColor" stroke-width="2"/></svg>1</span><span class="d p"> +8</span><svg class="i" viewBox="0 0 13 13"><path class="ax" d="M.5 0V12.5H13" fill="none"/><path class="zz" d="M2.2 8.6L5.2 5L7.3 7.1L11.8 3" fill="none" stroke-width="2"/></svg></div>
<div class="c G" style="left:572px;width:110px"><span class="l g"><svg class="ck" viewBox="0 0 10 8"><path d="M1 3.6L3.8 6.4L9 1.2" fill="none" stroke="currentColor" stroke-width="2"/></svg>9</span><span class="d p"> +11</span><svg class="i" viewBox="0 0 13 13"><path class="ax" d="M.5 0V12.5H13" fill="none"/><path class="zz" d="M2.2 8.6L5.2 5L7.3 7.1L11.8 3" fill="none" stroke-width="2"/></svg></div>
<div class="c Y" style="left:682px;width:110px"><span class="l g"><svg class="ck" viewBox="0 0 10 8"><path d="M1 3.6L3.8 6.4L9 1.2" fill="none" stroke="currentColor" stroke-width="2"/></svg>20</span><span class="d p"> +2</span><svg class="i" viewBox="0 0 13 13"><path class="ax" d="M.5 0V12.5H13" fill="none"/><path class="zz" d="M2.2 8.6L5.2 5L7.3 7.1L11.8 3" fill="none" stroke-width="2"/></svg></div>
<div class="c O" style="left:792px;width:110px"><span class="l g"><svg class="ck" viewBox="0 0 10 8"><path d="M1 3.6L3.8 6.4L9 1.2" fill="none" stroke="currentColor" stroke-width="2"/></svg>22</span><span class="d p"> +5</span><svg class="i" viewBox="0 0 13 13"><path class="ax" d="M.5 0V12.5H13" fill="none"/><path class="zz" d="M2.2 8.6L5.2 5L7.3 7.1L11.8 3" fill="none" stroke-width="2"/></svg></div>
<div class="c O" style="left:902px;width:110px"><span class="l g"><svg class="ck" viewBox="0 0 10 8"><path d="M1 3.6L3.8 6.4L9 1.2" fill="none" stroke="currentColor" stroke-width="2"/></svg>27</span><span class="d p"> +2</span><svg class="i" viewBox="0 0 13 13"><path class="ax" d="M.5 0V12.5H13" fill="none"/><path class="zz" d="M2.2 8.6L5.2 5L7.3 7.1L11.8 3" fill="none" stroke-width="2"/></svg></div>
<div class="c O" style="left:1012px;width:110px"><span class="l g"><svg class="ck" viewBox="0 0 10 8"><path d="M1 3.6L3.8 6.4L9 1.2" fill="none" stroke="currentColor" stroke-width="2"/></svg>29</span><span class="d p"> +3</span><svg class="i" viewBox="0 0 13 13"><path class="ax" d="M.5 0V12.5H13" fill="none"/><path class="zz" d="M2.2 8.6L5.2 5L7.3 7.1L11.8 3" fill="none" stroke-width="2"/></svg></div>
<div class="c O" style="left:1122px;width:110px"><span class="l g"><svg class="ck" viewBox="0 0 10 8"><path d="M1 3.6L3.8 6.4L9 1.2" fill="none" stroke="currentColor" stroke-width="2"/></svg>32</span></div>
<div class="vl" style="left:55px"></div>
<div class="vl" style="left:384px"></div>
</div>
<div class="r" style="top:405px">
<div class="cb"></div><span class="n">21</span><span class="k">юристы военкомат</span>
<div class="c B z" style="left:385px;width:187px"><span class="l g"><svg class="ck" viewBox="0 0 10 8"><path d="M1 3.6L3.8 6.4L9 1.2" fill="none" stroke="currentColor" stroke-width="2"/></svg>1</span><span class="d p"> +8</span><svg class="i" viewBox="0 0 13 13"><path class="ax" d="M.5 0V12.5H13" fill="none"/><path class="zz" d="M2.2 8.6L5.2 5L7.3 7.1L11.8 3" fill="none" stroke-width="2"/></svg></div>
<div class="c G" style="left:572px;width:110px"><span class="l g"><svg class="ck" viewBox="0 0 10 8"><path d="M1 3.6L3.8 6.4L9 1.2" fill="none" stroke="currentColor" stroke-width="2"/></svg>9</span><span class="d p"> +5</span><svg class="i" viewBox="0 0 13 13"><path class="ax" d="M.5 0V12.5H13" fill="none"/><path class="zz" d="M2.2 8.6L5.2 5L7.3 7.1L11.8 3" fill="none" stroke-width="2"/></svg></div>
<div class="c Y" style="left:682px;width:110px"><span class="l g"><svg class="ck" viewBox="0 0 10 8"><path d="M1 3.6L3.8 6.4L9 1.2" fill="none" stroke="currentColor" stroke-width="2"/></svg>14</span><span class="d p"> +11</span><svg class="i" viewBox="0 0 13 13"><path class="ax" d="M.5 0V12.5H13" fill="none"/><path class="zz" d="M2.2 8.6L5.2 5L7.3 7.1L11.8 3" fill="none" stroke-width="2"/></svg></div>
<div class="c O" style="left:792px;width:110px"><span class="l g"><svg class="ck" viewBox="0 0 10 8"><path d="M1 3.6L3.8 6.4L9 1.2" fill="none" stroke="currentColor" stroke-width="2"/></svg>25</span><span class="d m"> -7</span><svg class="i" viewBox="0 0 13 13"><path class="ax" d="M.5 0V12.5H13" fill="none"/><path class="zz" d="M2.2 8.6L5.2 5L7.3 7.1L11.8 3" fill="none" stroke-width="2"/></svg></div>
<div class="c Y" style="left:902px;width:110px"><span class="l g"><svg class="ck" viewBox="0 0 10 8"><path d="M1 3.6L3.8 6.4L9 1.2" fill="none" stroke="currentColor" stroke-width="2"/></svg>18</span><span class="d p"> +11</span><svg class="i" viewBox="0 0 13 13"><path class="ax" d="M.5 0V12.5H13" fill="none"/><path class="zz" d="M2.2 8.6L5.2 5L7.3 7.1L11.8 3" fill="none" stroke-width="2"/></svg></div>
<div class="c O" style="left:1012px;width:110px"><span class="l g"><svg class="ck" viewBox="0 0 10 8"><path d="M1 3.6L3.8 6.4L9 1.2" fill="none" stroke="currentColor" stroke-width="2"/></svg>29</span><span class="d p"> +5</span><svg class="i" viewBox="0 0 13 13"><path class="ax" d="M.5 0V12.5H13" fill="none"/><path class="zz" d="M2.2 8.6L5.2 5L7.3 7.1L11.8 3" fill="none" stroke-width="2"/></svg></div>
<div class="c O" style="left:1122px;width:110px"><span class="l g"><svg class="ck" viewBox="0 0 10 8"><path d="M1 3.6L3.8 6.4L9 1.2" fill="none" stroke="currentColor" stroke-width="2"/></svg>34</span></div>
<div class="vl" style="left:55px"></div>
<div class="vl" style="left:384px"></div>
</div>
<div class="r" style="top:424px">
<div class="cb"></div><span class="n">22</span><span class="k">берут ли в армию с брадикардией</span>
<div class="c B z" style="left:385px;width:187px"><span class="l">1</span><span class="d p"> +7</span><svg class="i" viewBox="0 0 13 13"><path class="ax" d="M.5 0V12.5H13" fill="none"/><path class="zz" d="M2.2 8.6L5.2 5L7.3 7.1L11.8 3" fill="none" stroke-width="2"/></svg></div>
<div class="c G" style="left:572px;width:110px"><span class="l">8</span><span class="d p"> +7</span><svg class="i" viewBox="0 0 13 13"><path class="ax" d="M.5 0V12.5H13" fill="none"/><path class="zz" d="M2.2 8.6L5.2 5L7.3 7.1L11.8 3" fill="none" stroke-width="2"/></svg></div>
<div class="c Y" style="left:682px;width:110px"><span class="l">15</span><span class="d p"> +4</span><svg class="i" viewBox="0 0 13 13"><path class="ax" d="M.5 0V12.5H13" fill="none"/><path class="zz" d="M2.2 8.6L5.2 5L7.3 7.1L11.8 3" fill="none" stroke-width="2"/></svg></div>
<div class="c Y" style="left:792px;width:110px"><span class="l">19</span><span class="d m"> -4</span><svg class="i" viewBox="0 0 13 13"><path class="ax" d="M.5 0V12.5H13" fill="none"/><path class="zz" d="M2.2 8.6L5.2 5L7.3 7.1L11.8 3" fill="none" stroke-width="2"/></svg></div>
<div class="c Y" style="left:902px;width:110px"><span class="l">15</span><span class="d p"> +2</span><svg class="i" viewBox="0 0 13 13"><path class="ax" d="M.5 0V12.5H13" fill="none"/><path class="zz" d="M2.2 8.6L5.2 5L7.3 7.1L11.8 3" fill="none" stroke-width="2"/></svg></div>
<div class="c Y" style="left:1012px;width:110px"><span class="l">17</span><span class="d p"> +2</span><svg class="i" viewBox="0 0 13 13"><path class="ax" d="M.5 0V12.5H13" fill="none"/><path class="zz" d="M2.2 8.6L5.2 5L7.3 7.1L11.8 3" fill="none" stroke-width="2"/></svg></div>
<div class="c Y" style="left:1122px;width:110px"><span class="l">19</span></div>
<div class="vl" style="left:55px"></div>
<div class="vl" style="left:384px"></div>
</div>
<div class="r" style="top:443px">
<div class="cb"></div><span class="n">23</span><span class="k">поступление в аспирантуру отсрочка от армии</span>
<div class="c B z" style="left:385px;width:187px"><span class="l">1</span><span class="d p"> +7</span><svg class="i" viewBox="0 0 13 13"><path class="ax" d="M.5 0V12.5H13" fill="none"/><path class="zz" d="M2.2 8.6L5.2 5L7.3 7.1L11.8 3" fill="none" stroke-width="2"/></svg></div>
<div class="c G" style="left:572px;width:110px"><span class="l">8</span><span class="d p"> +2</span><svg class="i" viewBox="0 0 13 13"><path class="ax" d="M.5 0V12.5H13" fill="none"/><path class="zz" d="M2.2 8.6L5.2 5L7.3 7.1L11.8 3" fill="none" stroke-width="2"/></svg></div>
<div class="c G" style="left:682px;width:110px"><span class="l">10</span><span class="d p"> +3</span><svg class="i" viewBox="0 0 13 13"><path class="ax" d="M.5 0V12.5H13" fill="none"/><path class="zz" d="M2.2 8.6L5.2 5L7.3 7.1L11.8 3" fill="none" stroke-width="2"/></svg></div>
<div class="c Y" style="left:792px;width:110px"><span class="l">13</span><span class="d p"> +5</span><svg class="i" viewBox="0 0 13 13"><path class="ax" d="M.5 0V12.5H13" fill="none"/><path class="zz" d="M2.2 8.6L5.2 5L7.3 7.1L11.8 3" fill="none" stroke-width="2"/></svg></div>
<div class="c Y" style="left:902px;width:110px"><span class="l">18</span><span class="d p"> +10</span><svg class="i" viewBox="0 0 13 13"><path class="ax" d="M.5 0V12.5H13" fill="none"/><path class="zz" d="M2.2 8.6L5.2 5L7.3 7.1L11.8 3" fill="none" stroke-width="2"/></svg></div>
<div class="c O" style="left:1012px;width:110px"><span class="l">28</span><span class="d p"> +6</span><svg class="i" viewBox="0 0 13 13"><path class="ax" d="M.5 0V12.5H13" fill="none"/><path class="zz" d="M2.2 8.6L5.2 5L7.3 7.1L11.8 3" fill="none" stroke-width="2"/></svg></div>
<div class="c O" style="left:1122px;width:110px"><span class="l">34</span></div>
<div class="vl" style="left:55px"></div>
<div class="vl" style="left:384px"></div>
</div>
<div class="a" style="left:1214px;top:0;width:8px;height:463px;background:#fff"></div>
<div class="a" style="left:1215px;top:16px;width:1px;height:447px;background:#dcdcec"></div>
<div class="a" style="left:1px;top:463px;width:1220px;height:17px;background:#f0f0f0"></div>
<div class="a" style="left:18px;top:464px;width:1066px;height:15px;background:#cdcdcd"></div>
<svg class="a" style="left:6px;top:467px" width="8" height="9" viewBox="0 0 8 9"><path d="M6.500 .8L2 4.500L6.500 8.200" fill="none" stroke="#484848" stroke-width="2"/></svg>
<svg class="a" style="left:1202px;top:467px" width="8" height="9" viewBox="0 0 8 9"><path d="M1.500 .8L6 4.500L1.500 8.200" fill="none" stroke="#484848" stroke-width="2"/></svg>
</div>
<div class="a" style="left:618px;top:495px;width:3px;height:2px;background:#606060"></div>
<div class="a" style="left:624px;top:495px;width:3px;height:2px;background:#606060"></div>
<div class="a" style="left:630px;top:495px;width:3px;height:2px;background:#606060"></div>
<div class="a" style="left:10px;top:523px;width:1216px;height:1px;background:#d9d9d9"></div>
<div class="tab on" style="left:10px;width:67px"><span class="a" style="left:10px;top:0;font-weight:bold;color:#c00808;font-size:16px;font-family:'Liberation Sans',sans-serif;line-height:22px;letter-spacing:0;-webkit-text-stroke:.6px #c00808">T</span><span class="a" style="left:29px;top:1px">Топы</span></div>
<div class="tab" style="left:77px;width:101px"><svg class="a" style="left:8px;top:5px" width="11" height="11" viewBox="0 0 11 11"><path d="M0 6h3v4.500H0zM4 3h3v7.500H4zM8 0h3v10.500H8z" fill="#178017"/></svg><span class="a" style="left:27px;top:1px">Показатели</span></div>
<div class="tab" style="left:178px;width:172px"><svg class="a" style="left:9px;top:5px" width="11" height="13" viewBox="0 0 11 13"><path d="M.5 .5H7L10.500 4V12.500H.5z" fill="#fff8e0" stroke="#f0b030"/><path d="M7 .5V4H10.500M2.500 6.500H8.500M2.500 8.500H8.500M2.500 10.500H8.500" fill="none" stroke="#f0b030"/></svg><span class="a" style="left:28px;top:1px">Релевантные страницы</span></div>
<div class="tab" style="left:350px;width:108px"><svg class="a" style="left:9px;top:4px" width="12" height="12" viewBox="0 0 12 12"><path d="M0 5h2v7H0z" fill="#8e1c1c"/><path d="M3 7h2v5H3z" fill="#c8142c"/><path d="M6 4h2v8H6z" fill="#9c2222"/><path d="M9 1h2v11H9z" fill="#cc1400"/></svg><span class="a" style="left:28px;top:1px">Подбор слов</span></div>
<div class="tab" style="left:458px;width:75px"><svg class="a" style="left:9px;top:10px" width="10" height="5" viewBox="0 0 10 5"><path d="M0 0H10L5 5z" fill="#1e78e0"/></svg><span class="a" style="left:28px;top:1px">Скрыть</span></div>
<div class="bt">
<div class="bh" style="left:9px">Топ</div>
<div class="bv" style="left:74px"></div>
<div class="bh" style="left:82px">Чт, 26.03.2026 <span class="el">...</span></div>
<div class="bv" style="left:184px"></div>
<div class="bh" style="left:192px">Пн, 23.03.2026 <span class="el">...</span></div>
<div class="bv" style="left:294px"></div>
<div class="bh" style="left:302px">Вс, 22.03.2026 <span class="el">...</span></div>
<div class="bv" style="left:404px"></div>
<div class="bh" style="left:412px">Сб, 21.03.2026 <span class="el">...</span></div>
<div class="bv" style="left:514px"></div>
<div class="bh" style="left:522px">Пт, 20.03.2026 <span class="el">...</span></div>
<div class="bv" style="left:624px"></div>
<div class="bh" style="left:632px">Чт, 19.03.2026 <span class="el">...</span></div>
<div class="bv" style="left:734px"></div>
<div class="bh" style="left:742px">Ср, 18.03.2026 <span class="el">...</span></div>
<div class="bv" style="left:844px"></div>
<div class="bh" style="left:852px">Ср, 18.03.2026 <span class="el">...</span></div>
<div class="bv" style="left:954px"></div>
<div class="br" style="top:25px"><span class="bc bl" style="left:7px">Топ 3</span>
<span class="bc" style="right:823px">27%</span>
<span class="bc bg" style="left:135px">+6%</span>
<span class="bc" style="right:713px">21%</span>
<span class="bc bg" style="left:245px">+1%</span>
<span class="bc" style="right:603px">20%</span>
<span class="bc bg" style="left:355px">+8%</span>
<span class="bc" style="right:493px">12%</span>
<span class="bc bg" style="left:465px">+7%</span>
<span class="bc" style="right:383px">5%</span>
<span class="bc bg" style="left:575px">+3%</span>
<span class="bc" style="right:273px">2%</span>
<span class="bc bg" style="left:685px">+2%</span>
<span class="bc" style="right:163px">—</span>
<span class="bc" style="right:53px">—</span>
</div>
<div class="br" style="top:44px"><span class="bc bl" style="left:7px">Топ 5</span>
<span class="bc" style="right:823px">30%</span>
<span class="bc bg" style="left:135px">+5%</span>
<span class="bc" style="right:713px">25%</span>
<span class="bc bg" style="left:245px">+3%</span>
<span class="bc" style="right:603px">22%</span>
<span class="bc bg" style="left:355px">+6%</span>
<span class="bc" style="right:493px">16%</span>
<span class="bc bg" style="left:465px">+7%</span>
<span class="bc" style="right:383px">9%</span>
<span class="bc bg" style="left:575px">+5%</span>
<span class="bc" style="right:273px">4%</span>
<span class="bc bg" style="left:685px">+3%</span>
<span class="bc" style="right:163px">1%</span>
<span class="bc" style="right:53px">1%</span>
</div>
<div class="br" style="top:63px"><span class="bc bl" style="left:7px">Топ 10</span>
<span class="bc" style="right:823px">32%</span>
<span class="bc bg" style="left:135px">+3%</span>
<span class="bc" style="right:713px">29%</span>
<span class="bc bg" style="left:245px">+3%</span>
<span class="bc" style="right:603px">26%</span>
<span class="bc bg" style="left:355px">+6%</span>
<span class="bc" style="right:493px">20%</span>
<span class="bc bg" style="left:465px">+7%</span>
<span class="bc" style="right:383px">13%</span>
<span class="bc bg" style="left:575px">+4%</span>
<span class="bc" style="right:273px">9%</span>
<span class="bc bg" style="left:685px">+4%</span>
<span class="bc" style="right:163px">5%</span>
<span class="bc" style="right:53px">5%</span>
</div>
<div class="br" style="top:82px"><span class="bc bl" style="left:7px">Топ 20</span>
<span class="bc" style="right:823px">40%</span>
<span class="bc bg" style="left:135px">+1%</span>
<span class="bc" style="right:713px">39%</span>
<span class="bc bg" style="left:245px">+3%</span>
<span class="bc" style="right:603px">36%</span>
<span class="bc bg" style="left:355px">+3%</span>
<span class="bc" style="right:493px">33%</span>
<span class="bc bg" style="left:465px">+4%</span>
<span class="bc" style="right:383px">29%</span>
<span class="bc bg" style="left:575px">+4%</span>
<span class="bc" style="right:273px">25%</span>
<span class="bc bg" style="left:685px">+3%</span>
<span class="bc" style="right:163px">22%</span>
<span class="bc" style="right:53px">21%</span>
</div>
</div>
</body></html>
